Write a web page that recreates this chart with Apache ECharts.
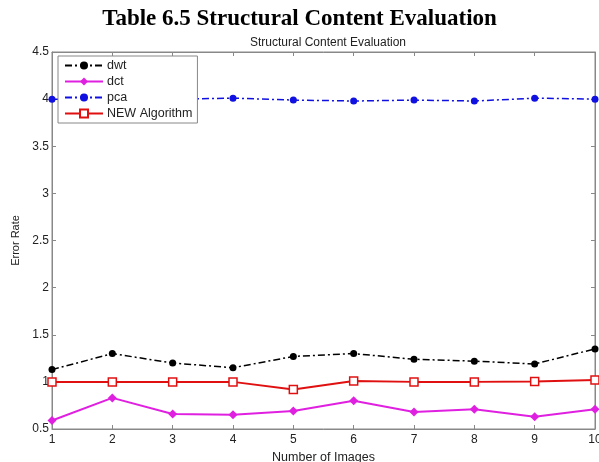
<!DOCTYPE html>
<html lang="en">
<head>
    <meta charset="UTF-8">
    <title>Structural Content Evaluation</title>
    <script src="https://cdn.jsdelivr.net/npm/echarts@6/dist/echarts.min.js"></script>
    <style>
        html, body { margin: 0; padding: 0; background: #fff; }
    </style>
</head>
<body>
<div id="main" style="width: 599px;height:462px;"></div>

<script type="text/javascript">
    // data
    var images = [1, 2, 3, 4, 5, 6, 7, 8, 9, 10];
    var dwt = [1.13, 1.30, 1.20, 1.15, 1.27, 1.30, 1.24, 1.22, 1.19, 1.35];
    var dct = [0.59, 0.83, 0.66, 0.65, 0.69, 0.80, 0.68, 0.71, 0.63, 0.71];
    var pca = [4.00, 4.00, 4.00, 4.01, 3.99, 3.98, 3.99, 3.98, 4.01, 4.00];
    var newAlg = [1.00, 1.00, 1.00, 1.00, 0.92, 1.01, 1.00, 1.00, 1.005, 1.02];
    var yTicks = {min: 0.5, max: 4.5, step: 0.5};

    function pairs(vals) {
        var out = [];
        for (var i = 0; i < images.length; i++) {
            out.push([images[i], vals[i]]);
        }
        return out;
    }

    var myChart = echarts.init(document.getElementById('main'));
    var font = 'Liberation Sans, Arial, sans-serif';
    var dashDot = [7, 3, 2, 3];

    var option = {
        animation: false,
        backgroundColor: '#fff',
        title: [{
            text: 'Table 6.5 Structural Content Evaluation',
            left: 'center',
            top: 3,
            textStyle: {fontFamily: 'Liberation Serif, Times New Roman, serif', fontSize: 23, fontWeight: 'bold', color: '#000'}
        }, {
            text: 'Structural Content Evaluation',
            left: 323,
            textAlign: 'center',
            top: 32,
            textStyle: {fontFamily: font, fontSize: 12, fontWeight: 'normal', color: '#222'}
        }],
        legend: {
            orient: 'vertical',
            left: 58,
            top: 56,
            itemWidth: 38,
            itemHeight: 10,
            itemGap: 3,
            padding: [3, 5, 3, 6],
            borderColor: '#888',
            borderWidth: 1,
            backgroundColor: '#fff',
            textStyle: {fontFamily: font, fontSize: 12.5, color: '#222', padding: [0, 0, 0, -1]},
            data: ['dwt', 'dct', 'pca', 'NEW Algorithm']
        },
        grid: {left: 52, right: 4, top: 52, bottom: 33, show: true, borderColor: '#888', borderWidth: 1, outerBoundsMode: 'none'},
        xAxis: [{
            type: 'value', min: 1, max: 10, interval: 1,
            name: 'Number of Images', nameLocation: 'middle', nameGap: 17,
            nameTextStyle: {fontFamily: font, fontSize: 12.5, color: '#222'},
            axisLine: {lineStyle: {color: '#888'}},
            axisTick: {inside: true, length: 4, lineStyle: {color: '#888'}},
            axisLabel: {fontFamily: font, fontSize: 12, color: '#222', margin: 5},
            splitLine: {show: false}
        }, {
            type: 'value', min: 1, max: 10, interval: 1, position: 'top',
            axisLine: {lineStyle: {color: '#888'}},
            axisTick: {inside: true, length: 4, lineStyle: {color: '#888'}},
            axisLabel: {show: false},
            splitLine: {show: false}
        }],
        yAxis: [{
            type: 'value', min: yTicks.min, max: yTicks.max, interval: yTicks.step,
            name: 'Error Rate', nameLocation: 'middle', nameGap: 26,
            nameTextStyle: {fontFamily: font, fontSize: 11, color: '#222'},
            axisLine: {show: true, lineStyle: {color: '#888'}},
            axisTick: {show: true, inside: true, length: 4, lineStyle: {color: '#888'}},
            axisLabel: {fontFamily: font, fontSize: 12, color: '#222', margin: 3},
            splitLine: {show: false}
        }, {
            type: 'value', min: yTicks.min, max: yTicks.max, interval: yTicks.step, position: 'right',
            axisLine: {show: true, lineStyle: {color: '#888'}},
            axisTick: {show: true, inside: true, length: 4, lineStyle: {color: '#888'}},
            axisLabel: {show: false},
            splitLine: {show: false}
        }],
        series: [{
            name: 'dwt', type: 'line', data: pairs(dwt),
            symbol: 'circle', symbolSize: 7,
            itemStyle: {color: '#000'},
            lineStyle: {color: '#000', width: 1.5, type: dashDot}
        }, {
            name: 'dct', type: 'line', data: pairs(dct),
            symbol: 'diamond', symbolSize: 9,
            itemStyle: {color: '#e020e0'},
            lineStyle: {color: '#e020e0', width: 2}
        }, {
            name: 'pca', type: 'line', data: pairs(pca),
            symbol: 'circle', symbolSize: 7,
            itemStyle: {color: '#1010e0'},
            lineStyle: {color: '#1010e0', width: 1.5, type: dashDot}
        }, {
            name: 'NEW Algorithm', type: 'line', data: pairs(newAlg),
            symbol: 'rect', symbolSize: 8,
            itemStyle: {color: '#fff', borderColor: '#e01010', borderWidth: 1.5},
            lineStyle: {color: '#e01010', width: 2}
        }]
    };
    myChart.setOption(option);
</script>
</body>
</html>
